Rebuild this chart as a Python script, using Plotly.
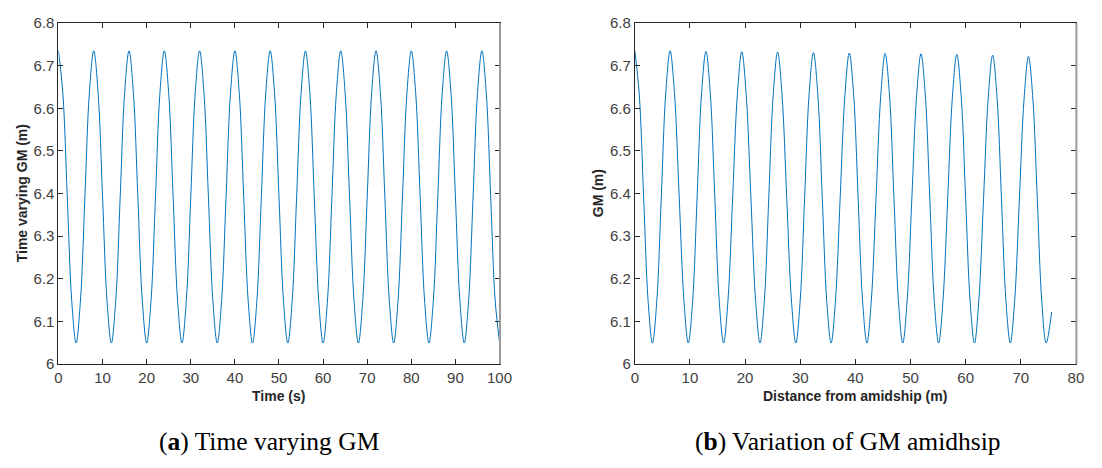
import plotly.graph_objects as go

W, H = 1102, 468

# ---------- data ----------
# (a) Time varying GM: samples every 1 s, 0..100 s
time_s = list(range(0, 101))
gm_time = [
    6.735, 6.635, 6.392, 6.150, 6.049, 6.150, 6.392, 6.635,
    6.735, 6.635, 6.392, 6.150, 6.049, 6.150, 6.392, 6.635,
    6.735, 6.635, 6.392, 6.150, 6.049, 6.150, 6.392, 6.635,
    6.735, 6.635, 6.392, 6.150, 6.049, 6.150, 6.392, 6.635,
    6.735, 6.635, 6.392, 6.150, 6.049, 6.150, 6.392, 6.635,
    6.735, 6.635, 6.392, 6.150, 6.049, 6.150, 6.392, 6.635,
    6.735, 6.635, 6.392, 6.150, 6.049, 6.150, 6.392, 6.635,
    6.735, 6.635, 6.392, 6.150, 6.049, 6.150, 6.392, 6.635,
    6.735, 6.635, 6.392, 6.150, 6.049, 6.150, 6.392, 6.635,
    6.735, 6.635, 6.392, 6.150, 6.049, 6.150, 6.392, 6.635,
    6.735, 6.635, 6.392, 6.150, 6.049, 6.150, 6.392, 6.635,
    6.735, 6.635, 6.392, 6.150, 6.049, 6.150, 6.392, 6.635,
    6.735, 6.635, 6.392, 6.150, 6.052,
]

# (b) Variation of GM amidship: distance from amidship (m)
dist_m = [
    0.0, 0.8, 1.6, 2.4, 3.2, 4.0, 4.8, 5.6,
    6.4, 7.2, 8.05, 8.9, 9.7, 10.5, 11.3, 12.1,
    12.9, 13.7, 14.5, 15.3, 16.1, 16.9, 17.75, 18.6,
    19.4, 20.2, 21.05, 21.9, 22.7, 23.5, 24.3, 25.1,
    25.9, 26.7, 27.55, 28.4, 29.2, 30.0, 30.8, 31.6,
    32.4, 33.2, 34.0, 34.8, 35.6, 36.4, 37.25, 38.1,
    38.9, 39.7, 40.5, 41.3, 42.1, 42.9, 43.75, 44.6,
    45.4, 46.2, 47.0, 47.8, 48.6, 49.4, 50.25, 51.1,
    51.9, 52.7, 53.5, 54.3, 55.1, 55.9, 56.75, 57.6,
    58.4, 59.2, 60.0, 60.8, 61.6, 62.4, 63.25, 64.1,
    64.9, 65.7, 66.5, 67.3, 68.1, 68.9, 69.75, 70.6,
    71.4, 72.2, 73.0, 73.8, 74.6, 75.6,
]
gm_dist = [
    6.735, 6.634, 6.392, 6.150, 6.049, 6.150, 6.392, 6.634,
    6.735, 6.634, 6.392, 6.150, 6.049, 6.150, 6.392, 6.634,
    6.734, 6.633, 6.392, 6.150, 6.049, 6.150, 6.392, 6.633,
    6.733, 6.633, 6.392, 6.150, 6.049, 6.150, 6.391, 6.632,
    6.732, 6.632, 6.391, 6.150, 6.049, 6.150, 6.391, 6.631,
    6.731, 6.631, 6.391, 6.150, 6.049, 6.150, 6.391, 6.630,
    6.730, 6.630, 6.390, 6.150, 6.049, 6.150, 6.390, 6.629,
    6.729, 6.629, 6.390, 6.150, 6.049, 6.150, 6.390, 6.628,
    6.728, 6.628, 6.389, 6.150, 6.049, 6.150, 6.389, 6.627,
    6.727, 6.627, 6.388, 6.150, 6.049, 6.150, 6.388, 6.625,
    6.725, 6.625, 6.387, 6.150, 6.049, 6.150, 6.387, 6.622,
    6.722, 6.622, 6.386, 6.150, 6.049, 6.122,
]

x1_ticks = [0, 10, 20, 30, 40, 50, 60, 70, 80, 90, 100]
x2_ticks = [0, 10, 20, 30, 40, 50, 60, 70, 80]
y_ticks = [6.0, 6.1, 6.2, 6.3, 6.4, 6.5, 6.6, 6.7, 6.8]
y_labels = ["6", "6.1", "6.2", "6.3", "6.4", "6.5", "6.6", "6.7", "6.8"]

# ---------- layout geometry (pixels) ----------
ax_top, ax_bot = 14.7, 368.3
a_l, a_r = 55.3, 503.3
b_l, b_r = 640.7, 1088.7

def px(x):
    return x / W

def py(y):
    return (H - y) / H

LINE = "#0072BD"
AX = "#262626"
TXT = "#404040"
tick_font = dict(family="Liberation Sans, Arial, sans-serif", size=15, color=TXT)

fig = go.Figure()
fig.add_trace(go.Scatter(x=time_s, y=gm_time, mode="lines", line=dict(color=LINE, width=1, shape="spline", smoothing=1.0),
                         xaxis="x", yaxis="y", showlegend=False, hoverinfo="skip"))
fig.add_trace(go.Scatter(x=dist_m, y=gm_dist, mode="lines", line=dict(color=LINE, width=1, shape="spline", smoothing=1.0),
                         xaxis="x2", yaxis="y2", showlegend=False, hoverinfo="skip"))

common_axis = dict(showgrid=False, zeroline=False, showline=True, linecolor=AX, linewidth=1,
                   mirror="ticks", ticks="inside", ticklen=5, tickcolor=AX, tickwidth=1,
                   tickfont=tick_font)

fig.update_layout(
    width=W, height=H,
    margin=dict(l=0, r=0, t=0, b=0),
    paper_bgcolor="white", plot_bgcolor="white",
    xaxis=dict(domain=[px(a_l), px(a_r)], range=[0, 100], tickvals=x1_ticks, anchor="y", **common_axis),
    yaxis=dict(domain=[py(ax_bot), py(ax_top)], range=[6, 6.8], tickvals=y_ticks, ticktext=y_labels, anchor="x", **common_axis),
    xaxis2=dict(domain=[px(b_l), px(b_r)], range=[0, 80], tickvals=x2_ticks, anchor="y2", **common_axis),
    yaxis2=dict(domain=[py(ax_bot), py(ax_top)], range=[6, 6.8], tickvals=y_ticks, ticktext=y_labels, anchor="x2", **common_axis),
)

title_font = dict(family="Liberation Sans, Arial, sans-serif", size=14, color=AX)
ann = []
ann.append(dict(text="<b>Time (s)</b>", x=px((a_l + a_r) / 2), y=py(402), xref="paper", yref="paper",
                xanchor="center", yanchor="middle", showarrow=False, font=title_font))
ann.append(dict(text="<b>Distance from amidship (m)</b>", x=px((b_l + b_r) / 2), y=py(402), xref="paper", yref="paper",
                xanchor="center", yanchor="middle", showarrow=False, font=title_font))
ann.append(dict(text="<b>Time varying GM (m)</b>", x=px(18), y=py((ax_top + ax_bot) / 2), xref="paper", yref="paper",
                xanchor="center", yanchor="middle", showarrow=False, textangle=-90, font=title_font))
ann.append(dict(text="<b>GM (m)</b>", x=px(603), y=py((ax_top + ax_bot) / 2), xref="paper", yref="paper",
                xanchor="center", yanchor="middle", showarrow=False, textangle=-90, font=title_font))
cap_font = dict(family="Liberation Serif, Times New Roman, serif", size=25.5, color="#000000")
ann.append(dict(text="(<b>a</b>) Time varying GM", x=px(269), y=py(449), xref="paper", yref="paper",
                xanchor="center", yanchor="middle", showarrow=False, font=cap_font))
ann.append(dict(text="(<b>b</b>) Variation of GM amidhsip", x=px(857), y=py(449), xref="paper", yref="paper",
                xanchor="center", yanchor="middle", showarrow=False, font=cap_font))
fig.update_layout(annotations=ann)

# slightly heavier gray right border as in the reference image
for xr in (a_r, b_r):
    fig.add_shape(type="line", xref="paper", yref="paper", x0=px(xr + 0.5), x1=px(xr + 0.5),
                  y0=py(ax_bot), y1=py(ax_top), line=dict(color="#9a9a9a", width=2))

fig.write_html("out.html")
